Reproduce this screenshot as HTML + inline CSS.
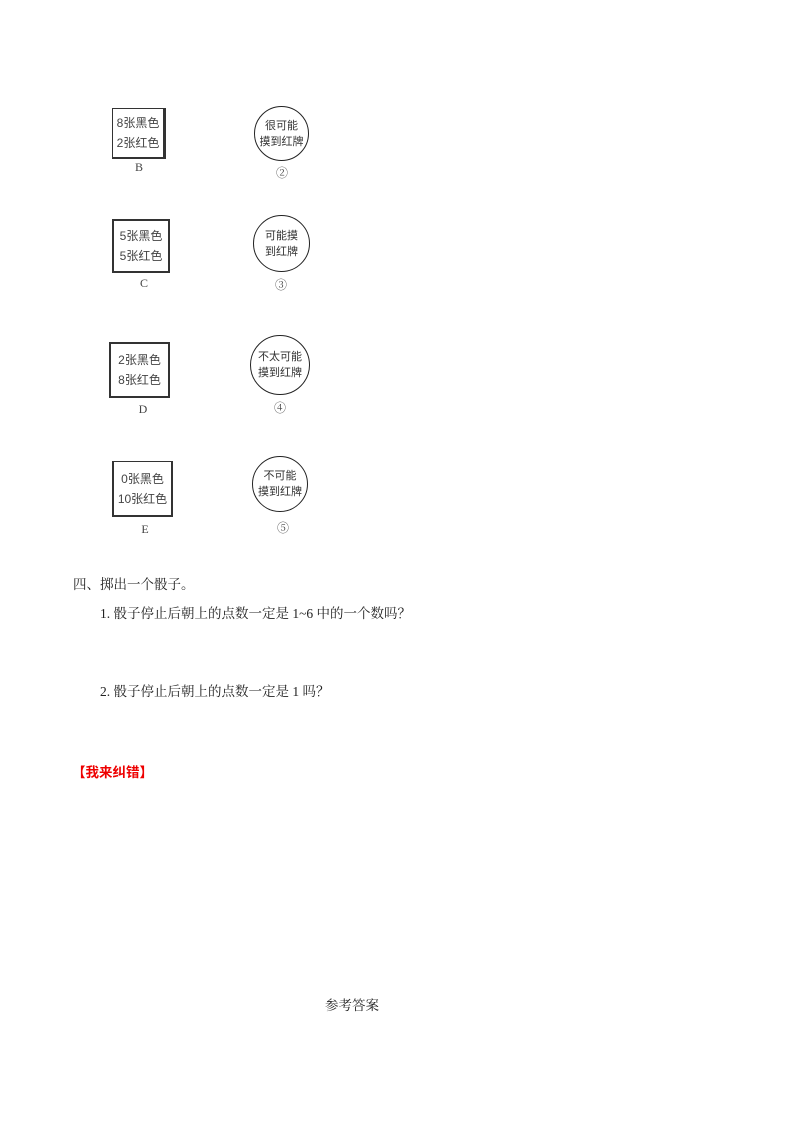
<!DOCTYPE html>
<html><head><meta charset="utf-8"><style>
body{margin:0;width:793px;height:1122px;background:#fff;position:relative;font-family:"Liberation Serif","Noto Serif CJK SC",serif;color:#222;}
.a{position:absolute;white-space:nowrap;}
.box{position:absolute;border:2px solid #333;box-sizing:border-box;font-family:"Liberation Sans","Noto Sans CJK SC",sans-serif;font-size:12px;line-height:20px;display:flex;flex-direction:column;justify-content:center;align-items:center;color:#444;}
.c{position:absolute;border:1.5px solid #222;border-radius:50%;box-sizing:border-box;font-family:"Liberation Sans","Noto Sans CJK SC",sans-serif;font-size:11px;line-height:16px;display:flex;flex-direction:column;justify-content:center;align-items:center;color:#333;}
.l{position:absolute;font-size:12px;color:#444;transform:translateX(-50%);}
.t{font-size:13.5px;}
</style></head><body>
<div class="box" style="left:112px;top:108px;width:54px;height:51px;border-right-width:3px;border-left-width:1px;border-top-width:1px;"><div>8张黑色</div><div>2张红色</div></div>
<div class="l" style="left:139px;top:160px;">B</div>
<div class="c" style="left:254px;top:106px;width:55px;height:55px;"><div>很可能</div><div>摸到红牌</div></div>
<div class="l" style="left:282px;top:164px;">②</div>

<div class="box" style="left:112px;top:219px;width:58px;height:54px;"><div>5张黑色</div><div>5张红色</div></div>
<div class="l" style="left:144px;top:276px;">C</div>
<div class="c" style="left:253px;top:215px;width:57px;height:57px;"><div>可能摸</div><div>到红牌</div></div>
<div class="l" style="left:281px;top:276px;">③</div>

<div class="box" style="left:109px;top:342px;width:61px;height:56px;"><div>2张黑色</div><div>8张红色</div></div>
<div class="l" style="left:143px;top:402px;">D</div>
<div class="c" style="left:250px;top:335px;width:60px;height:60px;"><div>不太可能</div><div>摸到红牌</div></div>
<div class="l" style="left:280px;top:399px;">④</div>

<div class="box" style="left:112px;top:461px;width:61px;height:56px;border-top-width:1px;"><div>0张黑色</div><div>10张红色</div></div>
<div class="l" style="left:145px;top:522px;">E</div>
<div class="c" style="left:252px;top:456px;width:56px;height:56px;"><div>不可能</div><div>摸到红牌</div></div>
<div class="l" style="left:283px;top:519px;">⑤</div>

<div class="a t" style="left:73px;top:573px;">四、掷出一个骰子。</div>
<div class="a t" style="left:100px;top:602px;">1. 骰子停止后朝上的点数一定是 1~6 中的一个数吗？</div>
<div class="a t" style="left:100px;top:680px;">2. 骰子停止后朝上的点数一定是 1 吗？</div>
<div class="a" style="left:72px;top:761px;font-size:13.5px;font-weight:bold;color:#e00;font-family:'Liberation Sans','Noto Sans CJK SC',sans-serif;">【我来纠错】</div>
<div class="a t" style="left:325px;top:994px;">参考答案</div>
</body></html>
